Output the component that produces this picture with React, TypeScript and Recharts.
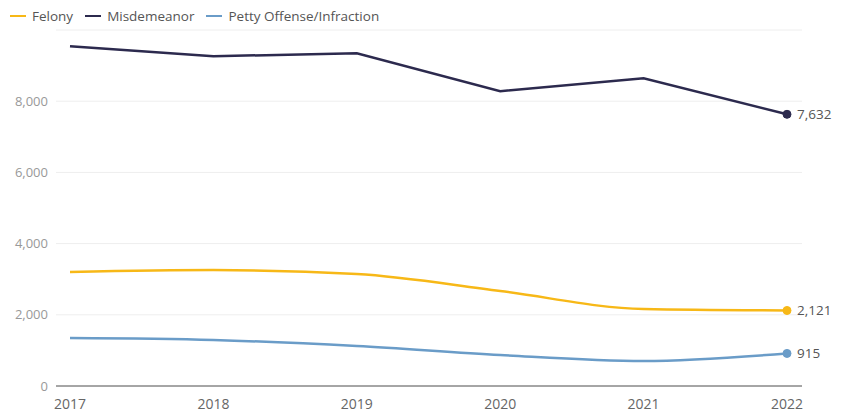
import { LineChart, Line, XAxis, YAxis, CartesianGrid } from 'recharts'

const years = ['2017', '2018', '2019', '2020', '2021', '2022']
const felony = [3200, 3256, 3144, 2667, 2161, 2121]
const misdemeanor = [9544, 9263, 9347, 8281, 8646, 7632]
const petty = [1347, 1291, 1123, 870, 702, 915]
const yTicks = [0, 2000, 4000, 6000, 8000]

const series = [
  { key: 'felony', name: 'Felony', color: '#F7B817', type: 'monotone' as const },
  { key: 'misdemeanor', name: 'Misdemeanor', color: '#2C2A4E', type: 'linear' as const },
  { key: 'petty', name: 'Petty Offense/Infraction', color: '#6A9CC8', type: 'monotone' as const },
]

const data = years.map((year, i) => ({
  year,
  felony: felony[i],
  misdemeanor: misdemeanor[i],
  petty: petty[i],
}))

const font = '"Open Sans", "Noto Sans", sans-serif'
const last = years.length - 1

function endDot(color: string) {
  return (props: any) => {
    if (props.index !== last) return <g key={`d-${props.index}`} />
    return <circle key={`d-${props.index}`} cx={props.cx} cy={props.cy} r={4} fill={color} stroke={color} />
  }
}

function endLabel(props: any) {
  if (props.index !== last) return null
  return (
    <text x={props.x + 10} y={props.y} dy={5} fontSize={13.5} fill="#555" fontFamily={font}>
      {Number(props.value).toLocaleString('en-US')}
    </text>
  )
}

export default function App() {
  return (
    <div style={{ position: 'absolute', left: 0, top: 0, width: 842, height: 414, background: '#fff', fontFamily: font }}>
      <div style={{ position: 'absolute', left: 10, top: 7, display: 'flex', gap: 12, fontSize: 13.5, color: '#555' }}>
        {series.map(s => (
          <div key={s.key} style={{ display: 'flex', alignItems: 'center', gap: 6 }}>
            <span style={{ width: 16, height: 2, background: s.color, display: 'inline-block' }} />
            <span>{s.name}</span>
          </div>
        ))}
      </div>
      <LineChart width={842} height={414} data={data} margin={{ top: 30, right: 40, bottom: 0, left: 0 }}>
        <CartesianGrid horizontal vertical={false} stroke="#eeeeee" />
        <XAxis
          dataKey="year"
          padding={{ left: 14, right: 15 }}
          height={28}
          tick={{ fontSize: 14, fill: '#666', fontFamily: font }}
          axisLine={{ stroke: '#555' }}
          tickLine={false}
          tickMargin={7}
        />
        <YAxis
          domain={[0, 10000]}
          ticks={yTicks}
          width={56}
          tick={{ fontSize: 13, fill: '#999', fontFamily: font }}
          tickFormatter={(v: number) => v.toLocaleString('en-US')}
          axisLine={false}
          tickLine={false}
        />
        {series.map(s => (
          <Line
            key={s.key}
            type={s.type}
            dataKey={s.key}
            name={s.name}
            stroke={s.color}
            strokeWidth={2.5}
            dot={endDot(s.color)}
            activeDot={false}
            label={endLabel}
            isAnimationActive={false}
          />
        ))}
      </LineChart>
    </div>
  )
}
